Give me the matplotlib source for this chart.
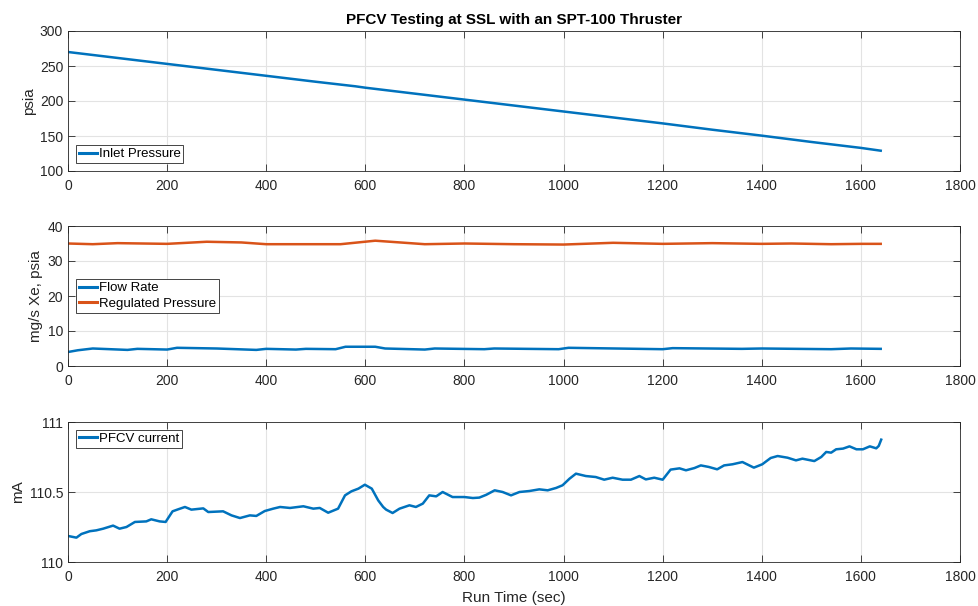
from matplotlib import pyplot as plt

# inlet pressure (psia)
inlet_t = [0, 100, 200, 300, 400, 500, 580, 600, 700, 800, 900, 1000,
           1100, 1200, 1300, 1400, 1500, 1600, 1640]
inlet_p = [270, 261.5, 253, 244.5, 236, 227.5, 221, 219, 210.5, 202, 193.5,
           185, 176.5, 168, 159, 150.5, 141.5, 133, 129]

# regulated pressure (psia)
reg_t = [0, 50, 100, 150, 200, 280, 350, 400, 480, 550, 620, 680, 720, 800,
         900, 1000, 1100, 1200, 1300, 1400, 1460, 1540, 1600, 1640]
reg_p = [35.0, 34.8, 35.1, 35.0, 34.9, 35.5, 35.3, 34.8, 34.8, 34.8, 35.8,
         35.2, 34.8, 35.0, 34.8, 34.7, 35.2, 34.9, 35.1, 34.9, 35.0, 34.8,
         34.9, 34.9]

# flow rate (mg/s Xe)
flow_t = [0, 20, 50, 120, 140, 200, 220, 300, 380, 400, 460, 480, 540, 560,
          620, 640, 720, 740, 840, 860, 990, 1010, 1200, 1220, 1360, 1400,
          1540, 1580, 1640]
flow_r = [4.0, 4.5, 5.0, 4.6, 4.9, 4.7, 5.2, 5.0, 4.6, 4.9, 4.7, 4.9, 4.8,
          5.5, 5.5, 5.0, 4.7, 5.0, 4.8, 5.0, 4.8, 5.2, 4.8, 5.1, 4.9, 5.0,
          4.8, 5.0, 4.9]

# PFCV current (mA)
cur_t = [0, 17, 27, 44, 57, 71, 91, 104, 118, 135, 158, 168, 185, 197, 211,
         222, 236, 249, 273, 283, 313, 330, 347, 367, 380, 397, 414, 428,
         448, 475, 495, 508, 525, 545, 559, 572, 586, 599, 613, 626, 636,
         642, 655, 669, 689, 702, 716, 729, 743, 756, 776, 800, 817, 830,
         844, 861, 877, 894, 911, 931, 951, 968, 985, 998, 1012, 1025, 1045,
         1065, 1082, 1099, 1119, 1136, 1153, 1166, 1183, 1200, 1216, 1234,
         1247, 1264, 1277, 1293, 1310, 1324, 1341, 1361, 1384, 1401, 1418,
         1432, 1452, 1469, 1482, 1506, 1520, 1530, 1540, 1550, 1564, 1577,
         1591, 1604, 1618, 1631, 1636, 1641]
cur_ma = [110.186, 110.174, 110.200, 110.220, 110.226, 110.238, 110.260,
          110.238, 110.250, 110.286, 110.290, 110.305, 110.290, 110.286,
          110.362, 110.376, 110.393, 110.374, 110.383, 110.357, 110.362,
          110.333, 110.314, 110.333, 110.329, 110.364, 110.381, 110.393,
          110.386, 110.398, 110.381, 110.386, 110.352, 110.381, 110.476,
          110.505, 110.524, 110.552, 110.524, 110.440, 110.393, 110.374,
          110.350, 110.381, 110.405, 110.393, 110.417, 110.476, 110.469,
          110.500, 110.464, 110.464, 110.457, 110.460, 110.480, 110.512,
          110.500, 110.476, 110.500, 110.507, 110.519, 110.512, 110.529,
          110.548, 110.595, 110.631, 110.614, 110.607, 110.588, 110.602,
          110.588, 110.588, 110.614, 110.590, 110.602, 110.588, 110.660,
          110.669, 110.655, 110.671, 110.690, 110.679, 110.662, 110.690,
          110.698, 110.714, 110.674, 110.698, 110.743, 110.757, 110.745,
          110.726, 110.738, 110.721, 110.750, 110.786, 110.781, 110.805,
          110.810, 110.826, 110.805, 110.805, 110.826, 110.812, 110.829,
          110.874]

BLUE = '#0072BD'
ORANGE = '#D95319'
AXCOL = '#262626'


def styleAxes(ax, ylim, yticks, yticklabels=None):
    ax.set_xlim(0, 1800)
    ax.set_xticks(range(0, 1801, 200))
    ax.set_ylim(*ylim)
    ax.set_yticks(yticks)
    if yticklabels is not None:
        ax.set_yticklabels(yticklabels)
    ax.grid(True, color='#e3e3e3', linewidth=0.8)
    ax.set_axisbelow(True)
    ax.tick_params(direction='in', top=True, right=True, length=5,
                   width=0.6, colors=AXCOL, labelsize=10)
    ax.tick_params(axis='x', pad=6)
    ax.tick_params(axis='y', pad=3.5)
    for s in ax.spines.values():
        s.set_color(AXCOL)
        s.set_linewidth(0.6)


def legendStyle(ax, loc):
    leg = ax.legend(loc=loc, fontsize=9.5, fancybox=False, handlelength=1.4,
                    handletextpad=0.1, borderpad=0.22, borderaxespad=0.6,
                    labelspacing=0.25, framealpha=1)
    leg.get_frame().set_edgecolor(AXCOL)
    leg.get_frame().set_linewidth(0.6)
    for line in leg.get_lines():
        line.set_linewidth(2.2)


def pfcvPlot():
    plt.rcParams['font.family'] = ['Liberation Sans', 'DejaVu Sans']
    fig = plt.figure(figsize=(9.79, 6.06), dpi=100)

    left, width = 68 / 979, 892 / 979
    ax1 = fig.add_axes([left, 1 - 171 / 606, width, 140 / 606])
    ax2 = fig.add_axes([left, 1 - 366 / 606, width, 140 / 606])
    ax3 = fig.add_axes([left, 1 - 562 / 606, width, 140 / 606])

    ax1.plot(inlet_t, inlet_p, color=BLUE, lw=1.8, label='Inlet Pressure')
    styleAxes(ax1, (100, 300), range(100, 301, 50))
    ax1.set_ylabel('psia', fontsize=11, color=AXCOL, labelpad=3)
    ax1.set_title('PFCV Testing at SSL with an SPT-100 Thruster',
                  fontsize=11, fontweight='bold', color='black', pad=5)
    legendStyle(ax1, 'lower left')

    ax2.plot(flow_t, flow_r, color=BLUE, lw=1.8, label='Flow Rate')
    ax2.plot(reg_t, reg_p, color=ORANGE, lw=1.8, label='Regulated Pressure')
    styleAxes(ax2, (0, 40), range(0, 41, 10))
    ax2.set_ylabel('mg/s Xe, psia', fontsize=11, color=AXCOL, labelpad=3)
    legendStyle(ax2, 'center left')

    ax3.plot(cur_t, cur_ma, color=BLUE, lw=1.8, label='PFCV current')
    styleAxes(ax3, (110, 111), [110, 110.5, 111], ['110', '110.5', '111'])
    ax3.set_ylabel('mA', fontsize=11, color=AXCOL, labelpad=3)
    ax3.set_xlabel('Run Time (sec)', fontsize=11, color=AXCOL, labelpad=5)
    legendStyle(ax3, 'upper left')

    plt.savefig('out.png', dpi=100)


def main():
    pfcvPlot()


if __name__ == "__main__":
    main()
